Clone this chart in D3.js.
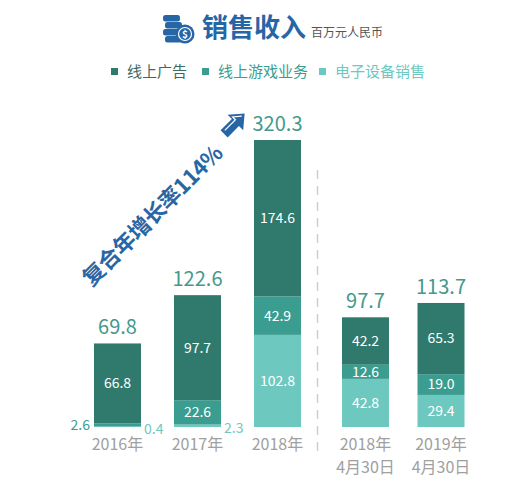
<!DOCTYPE html>
<html>
<head>
<meta charset="utf-8">
<script src="https://cdn.jsdelivr.net/npm/d3@7"></script>
<style>
  body { margin: 0; background: #fff; }
  text { font-family: "Noto Sans CJK SC", "Noto Sans", sans-serif; }
</style>
</head>
<body>
<div id="chart"></div>
<script>
// Chart data (百万元人民币)
var categories = ["2016年", "2017年", "2018年", "2018年4月30日", "2019年4月30日"];
var tickLine1 = ["2016年", "2017年", "2018年", "2018年", "2019年"];
var tickLine2 = ["", "", "", "4月30日", "4月30日"];
var onlineAds = [66.8, 97.7, 174.6, 42.2, 65.3];
var onlineGames = [2.6, 22.6, 42.9, 12.6, 19.0];
var deviceSales = [0.4, 2.3, 102.8, 42.8, 29.4];
var totals = [69.8, 122.6, 320.3, 97.7, 113.7];
var seriesNames = ["线上广告", "线上游戏业务", "电子设备销售"];
var cagrLabel = "复合年增长率114%";

var width = 529, height = 489;
var baseline = 427;
var colors = { ads: "#2f7a6d", games: "#3a9d90", devices: "#6dc9c0" };
var totalColor = "#45998c";
var blue = "#2766a6";

var svg = d3.select("#chart")
    .append("svg")
    .attr("width", width)
    .attr("height", height);

// Title with coin icon
var icon = svg.append("g");
[[163, 15], [165, 22], [163, 29], [165, 36]].forEach(function (p) {
    icon.append("rect")
        .attr("x", p[0]).attr("y", p[1])
        .attr("width", 17).attr("height", 6.5)
        .attr("rx", 2.5)
        .attr("fill", blue);
});
icon.append("circle").attr("cx", 185).attr("cy", 34).attr("r", 9.5).attr("fill", blue);
icon.append("circle").attr("cx", 185).attr("cy", 34).attr("r", 6.5)
    .attr("fill", "none").attr("stroke", "#fff").attr("stroke-width", 1.2);
icon.append("text")
    .attr("x", 185).attr("y", 38)
    .attr("text-anchor", "middle")
    .attr("font-size", 10).attr("font-weight", "bold")
    .attr("fill", "#fff")
    .text("$");

svg.append("text")
    .attr("x", 202).attr("y", 37)
    .attr("font-size", 26).attr("font-weight", "bold")
    .attr("fill", blue)
    .text("销售收入");
svg.append("text")
    .attr("x", 311).attr("y", 37)
    .attr("font-size", 12)
    .attr("fill", "#555")
    .text("百万元人民币");

// Legend
var legendX = [111, 202, 319];
var legendColors = [colors.ads, colors.games, colors.devices];
var legend = svg.selectAll(".legend")
    .data(seriesNames)
    .enter()
    .append("g")
    .attr("class", "legend")
    .attr("transform", function (d, i) { return "translate(" + legendX[i] + ",0)"; });
legend.append("rect")
    .attr("x", 0).attr("y", 68)
    .attr("width", 7).attr("height", 7)
    .attr("fill", function (d, i) { return legendColors[i]; });
legend.append("text")
    .attr("x", 16).attr("y", 77)
    .attr("font-size", 15)
    .attr("fill", function (d, i) { return i === 0 ? "#3b6b62" : legendColors[i]; })
    .text(function (d) { return d; });

// Scales: annual bars and period bars sit in two groups
var xYear = d3.scaleBand()
    .domain(categories.slice(0, 3))
    .range([77.5, 317.5])
    .paddingInner(0.4125)
    .paddingOuter(0.20625);
var xPeriod = d3.scaleBand()
    .domain(categories.slice(3))
    .range([327.75, 478.75])
    .paddingInner(0.3775)
    .paddingOuter(0.18875);
function xPos(i) {
    return i < 3 ? xYear(categories[i]) : xPeriod(categories[i]);
}
var barWidth = xYear.bandwidth();

var y = d3.scalePow()
    .exponent(0.81)
    .domain([0, d3.max(totals)])
    .range([baseline, 140]);

// Stack rows, bottom to top: devices, games, ads
var rows = categories.map(function (c, i) {
    return { cat: c, i: i, devices: deviceSales[i], games: onlineGames[i], ads: onlineAds[i] };
});
var keys = ["devices", "games", "ads"];
var stacked = d3.stack().keys(keys)(rows);

// Segment scale inside each bar
function inner(i) {
    var sum = deviceSales[i] + onlineGames[i] + onlineAds[i];
    return d3.scaleLinear().domain([0, sum]).range([baseline, y(totals[i])]);
}

// Dashed separator
svg.append("line")
    .attr("x1", xYear.range()[1]).attr("x2", xYear.range()[1])
    .attr("y1", 170).attr("y2", 455)
    .attr("stroke", "#cfcfcf")
    .attr("stroke-width", 1.5)
    .attr("stroke-dasharray", "9,7");

// Bars
var layer = svg.selectAll(".layer")
    .data(stacked)
    .enter()
    .append("g")
    .attr("class", "layer")
    .attr("fill", function (d) { return colors[d.key]; });

layer.selectAll("rect")
    .data(function (d) { return d; })
    .enter()
    .append("rect")
    .attr("x", function (d) { return xPos(d.data.i); })
    .attr("width", barWidth)
    .attr("y", function (d) { return inner(d.data.i)(d[1]); })
    .attr("height", function (d) { return inner(d.data.i)(d[0]) - inner(d.data.i)(d[1]); });

// Segment labels
layer.each(function (series) {
    var key = series.key;
    d3.select(this).selectAll(".seg-label")
        .data(series)
        .enter()
        .append("text")
        .attr("class", "seg-label")
        .attr("font-size", 14)
        .attr("dy", "0.35em")
        .each(function (d) {
            var s = inner(d.data.i);
            var h = s(d[0]) - s(d[1]);
            var cy = (s(d[0]) + s(d[1])) / 2;
            var t = d3.select(this).attr("y", cy).text(d.data[key].toFixed(1));
            if (h >= 14) {
                t.attr("x", xPos(d.data.i) + barWidth / 2)
                    .attr("text-anchor", "middle")
                    .attr("fill", "#fff");
            } else if (key === "games") {
                t.attr("x", xPos(d.data.i) - 4)
                    .attr("text-anchor", "end")
                    .attr("fill", colors.games);
            } else {
                t.attr("x", xPos(d.data.i) + barWidth + 3)
                    .attr("y", cy + 2)
                    .attr("text-anchor", "start")
                    .attr("fill", colors.devices);
            }
        });
});

// Totals above bars
svg.selectAll(".total")
    .data(totals)
    .enter()
    .append("text")
    .attr("class", "total")
    .attr("x", function (d, i) { return xPos(i) + barWidth / 2; })
    .attr("y", function (d) { return y(d) - 9; })
    .attr("text-anchor", "middle")
    .attr("font-size", 20)
    .attr("fill", totalColor)
    .text(function (d) { return d.toFixed(1); });

// Category labels
var ticks = svg.selectAll(".tick")
    .data(categories)
    .enter()
    .append("text")
    .attr("class", "tick")
    .attr("x", function (d, i) { return xPos(i) + barWidth / 2; })
    .attr("y", 450)
    .attr("text-anchor", "middle")
    .attr("font-size", 16)
    .attr("fill", "#a0a0a0");
ticks.append("tspan").text(function (d, i) { return tickLine1[i]; });
ticks.append("tspan")
    .attr("x", function (d, i) { return xPos(i) + barWidth / 2; })
    .attr("dy", 23)
    .text(function (d, i) { return tickLine2[i]; });

// Growth annotation
svg.append("text")
    .attr("transform", "translate(158,221) rotate(-45)")
    .attr("text-anchor", "middle")
    .attr("font-size", 22)
    .attr("font-weight", "bold")
    .attr("letter-spacing", -0.5)
    .attr("fill", blue)
    .text(cagrLabel);

var arrow = svg.append("g")
    .attr("transform", "translate(234,124) rotate(-45)");
arrow.append("path")
    .attr("d", "M-14,-5L2,-5L2,-11L15,0L2,11L2,5L-14,5Z")
    .attr("fill", blue);
arrow.append("path")
    .attr("d", "M-11,-2L4,-2L4,-6L11,0")
    .attr("fill", "none")
    .attr("stroke", "#fff")
    .attr("stroke-width", 1.2);
</script>
</body>
</html>
